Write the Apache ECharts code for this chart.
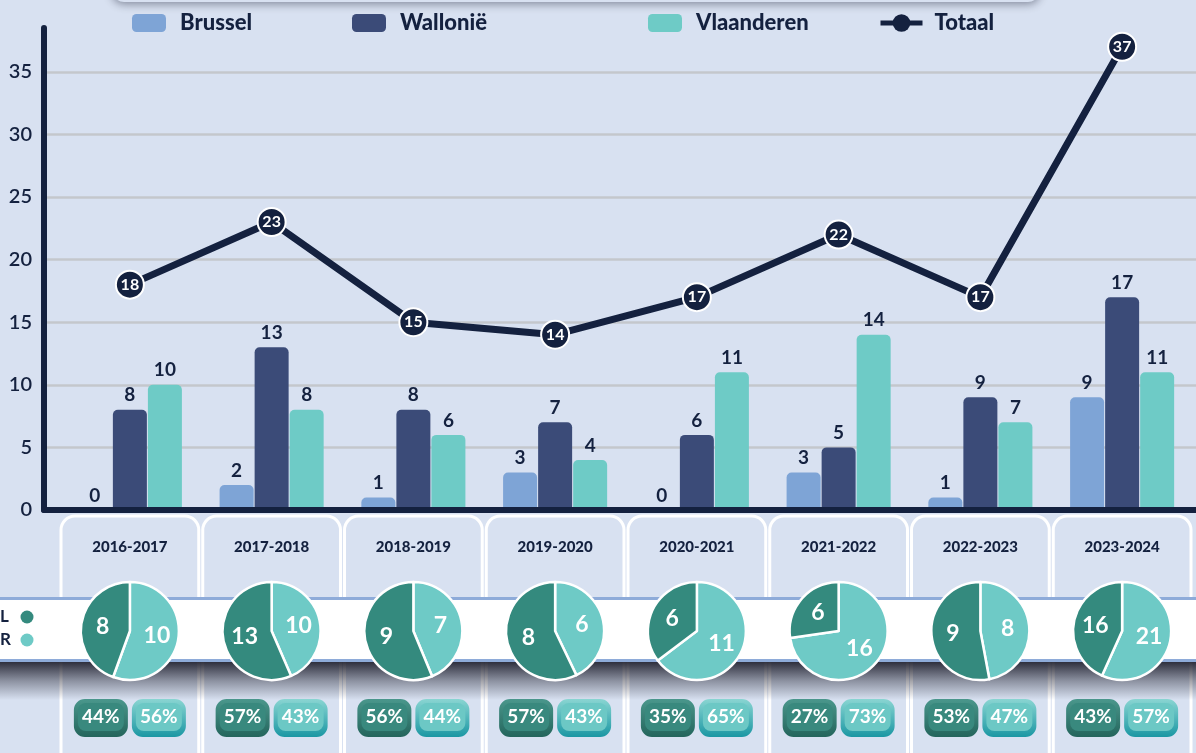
<!DOCTYPE html>
<html><head><meta charset="utf-8">
<script src="https://cdn.jsdelivr.net/npm/echarts@6/dist/echarts.min.js"></script>
<style>html,body{margin:0;padding:0;background:#d8e1f1;overflow:hidden}#c{width:1196px;height:753px}</style>
</head><body><div id="c"></div>
<script>
// ---- data ----
const categories = ['2016-2017','2017-2018','2018-2019','2019-2020','2020-2021','2021-2022','2022-2023','2023-2024'];
const brussel    = [0, 2, 1, 3, 0, 3, 1, 9];
const wallonie   = [8, 13, 8, 7, 6, 5, 9, 17];
const vlaanderen = [10, 8, 6, 4, 11, 14, 7, 11];
const totaal     = [18, 23, 15, 14, 17, 22, 17, 37];
const nl         = [8, 13, 9, 8, 6, 6, 9, 16];
const fr         = [10, 10, 7, 6, 11, 16, 8, 21];
const pctNL      = [44, 57, 56, 57, 35, 27, 53, 43];
const pctFR      = [56, 43, 44, 43, 65, 73, 47, 57];
const seriesNames = ['Brussel', 'Wallonië', 'Vlaanderen', 'Totaal'];
const rowLabels  = ['L', 'R'];

// ---- style ----
const F = 'Lato, "Noto Sans", sans-serif';
const NAVY = '#14213f';
const BG = '#d8e1f1';
const C_BRU = '#7ea4d6', C_WAL = '#3b4b78', C_VLA = '#6ecbc6';
const C_NL = '#348a7e', C_FR = '#6ecac6';
const Y_MAX = 38.5;

const chart = echarts.init(document.getElementById('c'), null, {renderer: 'canvas'});

function legendFor(name, left, extra) {
  return Object.assign({
    data: [name], left: left, top: 12, padding: 0, icon: 'roundRect',
    itemWidth: 34, itemHeight: 18, selectedMode: false,
    textStyle: {fontFamily: F, fontSize: 22, fontWeight: 900, color: NAVY, padding: [0, 0, 0, 9]}
  }, extra || {});
}

const barLabel = {show: true, position: 'top', distance: 5, color: NAVY, fontFamily: F, fontSize: 19, fontWeight: 'bold'};

const baseSeries = [
  {name: seriesNames[0], type: 'bar', data: brussel, barWidth: 34, barGap: '3%', itemStyle: {color: C_BRU, borderRadius: [5,5,0,0]}, label: barLabel, z: 2},
  {name: seriesNames[1], type: 'bar', data: wallonie, barWidth: 34, barGap: '3%', itemStyle: {color: C_WAL, borderRadius: [5,5,0,0]}, label: barLabel, z: 2},
  {name: seriesNames[2], type: 'bar', data: vlaanderen, barWidth: 34, barGap: '3%', itemStyle: {color: C_VLA, borderRadius: [5,5,0,0]}, label: barLabel, z: 2},
  {name: seriesNames[3], type: 'line', data: totaal, z: 6, symbol: 'circle', symbolSize: 28,
   lineStyle: {color: NAVY, width: 7}, itemStyle: {color: NAVY, borderColor: '#ffffff', borderWidth: 2},
   label: {show: true, position: 'inside', color: '#ffffff', fontFamily: F, fontSize: 16, fontWeight: 'bold'}},
  // category cells below the axis
  {type: 'custom', z: 1, silent: true, clip: false,
   data: categories.map((c, i) => [i, 0]),
   renderItem: function (params, api) {
     const p = api.coord([api.value(0), 0]);
     const w = api.size([1, 0])[0];
     return {type: 'rect', shape: {x: p[0] - w/2 + 2, y: p[1] + 6, width: w - 4, height: 400, r: 14},
             style: {fill: BG, stroke: '#ffffff', lineWidth: 3}};
   }},
  // percentage badges
  {type: 'custom', z: 12, silent: true, clip: false,
   data: categories.map((c, i) => [i, 0, pctNL[i], pctFR[i]]),
   renderItem: function (params, api) {
     const p = api.coord([api.value(0), 0]);
     const top = p[1] + 189, h = 38, bw = 54;
     function badge(x, pct, dark) {
       const outer = dark
         ? new echarts.graphic.LinearGradient(0,0,0,1,[{offset:0,color:'#4a978c'},{offset:1,color:'#24655c'}])
         : new echarts.graphic.LinearGradient(0,0,0,1,[{offset:0,color:'#8ad5d2'},{offset:1,color:'#1b97a3'}]);
       return [
         {type: 'rect', shape: {x: x, y: top, width: bw, height: h, r: 11}, style: {fill: outer}},
         {type: 'rect', shape: {x: x + 4, y: top + 4, width: bw - 8, height: h - 10, r: 8}, style: {fill: dark ? '#39897e' : '#6cc8c5'}},
         {type: 'text', x: x + bw/2, y: top + h/2 - 1,
          style: {text: pct + '%', fill: '#ffffff', font: 'bold 19px ' + F, align: 'center', verticalAlign: 'middle'}}
       ];
     }
     return {type: 'group', children: [].concat(
       badge(p[0] - 56, api.value(2), true),
       badge(p[0] + 2, api.value(3), false))};
   }}
];

chart.setOption({
  animation: false,
  backgroundColor: BG,
  grid: [
    {left: 59, right: 3, top: 28, bottom: 243, containLabel: false, outerBoundsMode: 'none'},
    {left: 44, right: 0, top: 28, bottom: 243, containLabel: false, outerBoundsMode: 'none'}
  ],
  legend: [
    legendFor(seriesNames[0], 132),
    legendFor(seriesNames[1], 352),
    legendFor(seriesNames[2], 648),
    legendFor(seriesNames[3], 878, {icon: null, itemWidth: 42, itemHeight: 22,
      lineStyle: {width: 5, color: NAVY}, itemStyle: {color: NAVY, borderWidth: 0},
      textStyle: {fontFamily: F, fontSize: 22, fontWeight: 900, color: NAVY, padding: [0, 0, 0, 7]}})
  ],
  xAxis: [
    {type: 'category', data: categories, gridIndex: 0, z: 5,
     axisLine: {show: false}, axisTick: {show: false},
     axisLabel: {margin: 30, color: NAVY, fontFamily: F, fontSize: 15, fontWeight: 900, interval: 0}},
    {type: 'value', gridIndex: 1, min: 0, max: 1, z: 5,
     axisLine: {show: true, onZero: false, lineStyle: {color: NAVY, width: 6}},
     axisTick: {show: false}, axisLabel: {show: false}, splitLine: {show: false}}
  ],
  yAxis: [
    {type: 'value', gridIndex: 0, min: 0, max: Y_MAX, interval: 5, show: false, splitLine: {show: false}},
    {type: 'value', gridIndex: 1, min: 0, max: Y_MAX, interval: 5,
     axisLine: {show: true, lineStyle: {color: NAVY, width: 6, cap: 'round'}},
     axisTick: {show: false},
     axisLabel: {color: NAVY, fontFamily: F, fontSize: 20, fontWeight: 600, margin: 12, showMaxLabel: false,
                 formatter: v => (v % 5 === 0 ? String(v) : '')},
     splitLine: {show: true, showMaxLine: false, lineStyle: {color: '#c4c7cc', width: 2.5}}}
  ],
  series: baseSeries
});

// positions from the library's own scales
const y0 = chart.convertToPixel({yAxisIndex: 0}, 0);
const xs = categories.map(c => chart.convertToPixel({xAxisIndex: 0}, c));

const pieSeries = categories.map((c, i) => ({
  type: 'pie', z: 10, silent: true, center: [xs[i], y0 + 121], radius: 49,
  startAngle: 90, clockwise: true,
  itemStyle: {borderColor: '#ffffff', borderWidth: 2.5},
  label: {show: true, position: 'inside', formatter: '{c}', color: '#ffffff', fontFamily: F, fontSize: 23, fontWeight: 'bold'},
  labelLine: {show: false},
  emphasis: {disabled: true},
  data: [
    {name: 'FR', value: fr[i], itemStyle: {color: C_FR}},
    {name: 'NL', value: nl[i], itemStyle: {color: C_NL}}
  ]
}));

const bandTop = y0 + 87;
chart.setOption({
  series: baseSeries.concat(pieSeries),
  graphic: {elements: [
    // cut-off panel above
    {type: 'rect', z: 20, shape: {x: 112, y: -40, width: 928, height: 42, r: 12},
     style: {fill: BG, shadowBlur: 10, shadowOffsetY: 2, shadowColor: 'rgba(20,25,45,0.45)'}},
    // white band
    {type: 'rect', z: 5, shape: {x: 0, y: bandTop, width: 1196, height: 65}, style: {fill: '#8eabd9'}},
    {type: 'rect', z: 5, shape: {x: 0, y: bandTop + 3, width: 1196, height: 59}, style: {fill: '#ffffff'}},
    {type: 'rect', z: 5, shape: {x: 0, y: bandTop + 65, width: 1196, height: 38},
     style: {fill: new echarts.graphic.LinearGradient(0,0,0,1,[
       {offset: 0, color: 'rgba(28,28,42,0.9)'}, {offset: 0.5, color: 'rgba(28,28,42,0.4)'}, {offset: 1, color: 'rgba(28,28,42,0)'}])}},
    // row labels
    {type: 'text', z: 6, x: 0, y: bandTop + 20, style: {text: rowLabels[0], fill: NAVY, font: 'bold 17px ' + F, verticalAlign: 'middle'}},
    {type: 'circle', z: 6, shape: {cx: 27, cy: bandTop + 20, r: 6.5}, style: {fill: C_NL}},
    {type: 'text', z: 6, x: 0, y: bandTop + 43, style: {text: rowLabels[1], fill: NAVY, font: 'bold 17px ' + F, verticalAlign: 'middle'}},
    {type: 'circle', z: 6, shape: {cx: 27, cy: bandTop + 43, r: 6.5}, style: {fill: C_FR}}
  ]}
});
</script>
</body></html>
